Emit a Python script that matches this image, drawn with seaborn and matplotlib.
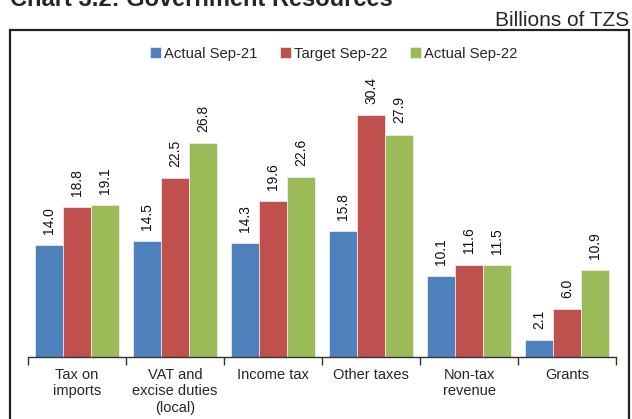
import numpy as np
import pandas as pd
import matplotlib
matplotlib.use('Agg')
import matplotlib.pyplot as plt
from matplotlib.patches import Rectangle
import seaborn as sns

categories = ["Tax on\nimports", "VAT and\nexcise duties\n(local)", "Income tax",
              "Other taxes", "Non-tax\nrevenue", "Grants"]
series = ["Actual Sep-21", "Target Sep-22", "Actual Sep-22"]
actual_sep21 = [14.0, 14.5, 14.3, 15.8, 10.1, 2.1]
target_sep22 = [18.8, 22.5, 19.6, 30.4, 11.6, 6.0]
actual_sep22 = [19.1, 26.8, 22.6, 27.9, 11.5, 10.9]
colors = ["#4F81BD", "#C0504D", "#9BBB59"]

df = pd.DataFrame({
    "category": categories * 3,
    "series": np.repeat(series, len(categories)),
    "value": actual_sep21 + target_sep22 + actual_sep22,
})

sns.set_style("white")
plt.rcParams['font.family'] = ['Liberation Sans', 'DejaVu Sans']

fig = plt.figure(figsize=(6.32, 4.19), dpi=100)
ax = fig.add_axes([28 / 632, 62 / 419, 588 / 632, 279 / 419])

sns.barplot(data=df, x="category", y="value", hue="series", order=categories,
            hue_order=series, palette=colors, width=0.85, saturation=1,
            edgecolor="#f2f2f2", linewidth=0.5, ax=ax)

for cont in ax.containers:
    ax.bar_label(cont, fmt="%.1f", rotation=90, padding=8, fontsize=10, color="#111111")

ax.set_ylim(0, 35)
ax.set_xlim(-0.5, 5.5)
ax.set_xlabel("")
ax.set_ylabel("")
ax.set_yticks([])
for s in ["top", "left", "right"]:
    ax.spines[s].set_visible(False)
ax.spines["bottom"].set_color("#333333")
ax.spines["bottom"].set_linewidth(1)

ax.set_xticks(np.arange(len(categories)))
ax.set_xticklabels(categories, fontsize=10.5, linespacing=1.2, va="top")
ax.tick_params(axis="x", which="major", bottom=True, length=0, pad=8)
ax.set_xticks(np.arange(-0.5, len(categories)), minor=True)
ax.tick_params(axis="x", which="minor", bottom=True, length=6, width=1,
               color="#333333", direction="out")

leg = ax.legend(loc="upper center", bbox_to_anchor=(0.52, 1.16), ncol=3, frameon=False,
                fontsize=10.7, handlelength=0.75, handleheight=0.75, handletextpad=0.2,
                columnspacing=1.5)

# outer frame and headings
fig.patches.append(Rectangle((10 / 632, -0.2), 619 / 632, 0.2 + 389 / 419,
                             transform=fig.transFigure, fill=False,
                             edgecolor="#222222", linewidth=1.6))
fig.text(10 / 632, 1 - 6 / 419, "Chart 3.2: Government Resources", fontsize=17,
         fontweight="bold", va="baseline", ha="left")
fig.text(629 / 632, 1 - 26 / 419, "Billions of TZS", fontsize=15,
         va="baseline", ha="right")

fig.savefig("out.png", dpi=100)
